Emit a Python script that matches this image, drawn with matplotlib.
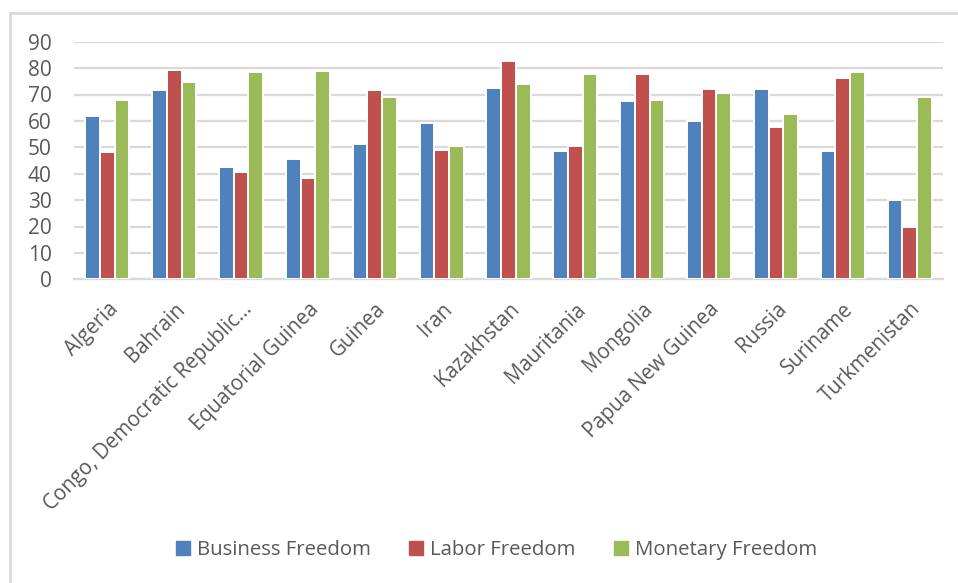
import matplotlib
matplotlib.use("Agg")
import matplotlib.pyplot as plt
import numpy as np
from matplotlib.lines import Line2D

countries = ["Algeria", "Bahrain", "Congo, Democratic Republic...", "Equatorial Guinea",
             "Guinea", "Iran", "Kazakhstan", "Mauritania", "Mongolia",
             "Papua New Guinea", "Russia", "Suriname", "Turkmenistan"]
business = [62.0, 71.8, 42.7, 45.4, 51.2, 59.2, 72.3, 48.6, 67.7, 59.8, 72.1, 48.7, 30.0]
labor = [48.1, 79.2, 40.8, 38.3, 71.7, 48.9, 82.7, 50.6, 77.9, 72.0, 57.6, 76.2, 20.0]
monetary = [68.0, 74.6, 78.5, 78.9, 69.1, 50.5, 74.0, 77.8, 67.9, 70.6, 62.7, 78.6, 69.2]
series_names = ["Business Freedom", "Labor Freedom", "Monetary Freedom"]
yticks = [0, 10, 20, 30, 40, 50, 60, 70, 80, 90]

colors = ["#4F81BD", "#C0504D", "#9BBB59"]
text_color = "#595959"
grid_color = "#D9D9D9"

plt.rcParams["font.family"] = ["Open Sans", "DejaVu Sans"]

fig = plt.figure(figsize=(9.58, 5.83), dpi=100)
ax = fig.add_axes([74 / 958, 1 - 279.3 / 583, (943 - 74) / 958, (279.3 - 41.7) / 583])

x = np.arange(len(countries))
pitch = 0.22
for i, (vals, c) in enumerate(zip([business, labor, monetary], colors)):
    ax.bar(x + (i - 1) * pitch, vals, width=pitch, color=c,
           edgecolor="white", linewidth=1.4, zorder=3)

ax.set_xlim(-0.5, len(countries) - 0.5)
ax.set_ylim(0, 90)
ax.set_yticks(yticks)
ax.yaxis.grid(True, color=grid_color, linewidth=1.6, zorder=0)
ax.set_axisbelow(True)
for s in ["top", "right", "left"]:
    ax.spines[s].set_visible(False)
ax.spines["bottom"].set_color(grid_color)
ax.spines["bottom"].set_linewidth(1.6)
ax.tick_params(axis="both", length=0, colors=text_color)
ax.tick_params(axis="y", pad=16, labelsize=15)
ax.set_xticks(x)
ax.set_xticklabels(countries, rotation=45, ha="right", rotation_mode="anchor",
                   color=text_color, fontsize=14.8)
ax.tick_params(axis="x", pad=14)

handles = [Line2D([], [], marker="s", linestyle="none", markersize=9.5,
                  markerfacecolor=c, markeredgecolor=c) for c in colors]
fig.legend(handles, series_names, loc="center", bbox_to_anchor=(495 / 958, 1 - 550 / 583),
           ncol=3, frameon=False, fontsize=14.7, labelcolor=text_color,
           handletextpad=0.2, columnspacing=1.7, handlelength=1.0)

# chart frame (top and left edges)
fig.add_artist(Line2D([10 / 958, 10 / 958], [0.0, 1 - 12.5 / 583], transform=fig.transFigure,
                      color=grid_color, linewidth=2))
fig.add_artist(Line2D([10 / 958, 1.0], [1 - 12.5 / 583, 1 - 12.5 / 583], transform=fig.transFigure,
                      color=grid_color, linewidth=2))

fig.savefig("out.png", dpi=100, facecolor="white")
